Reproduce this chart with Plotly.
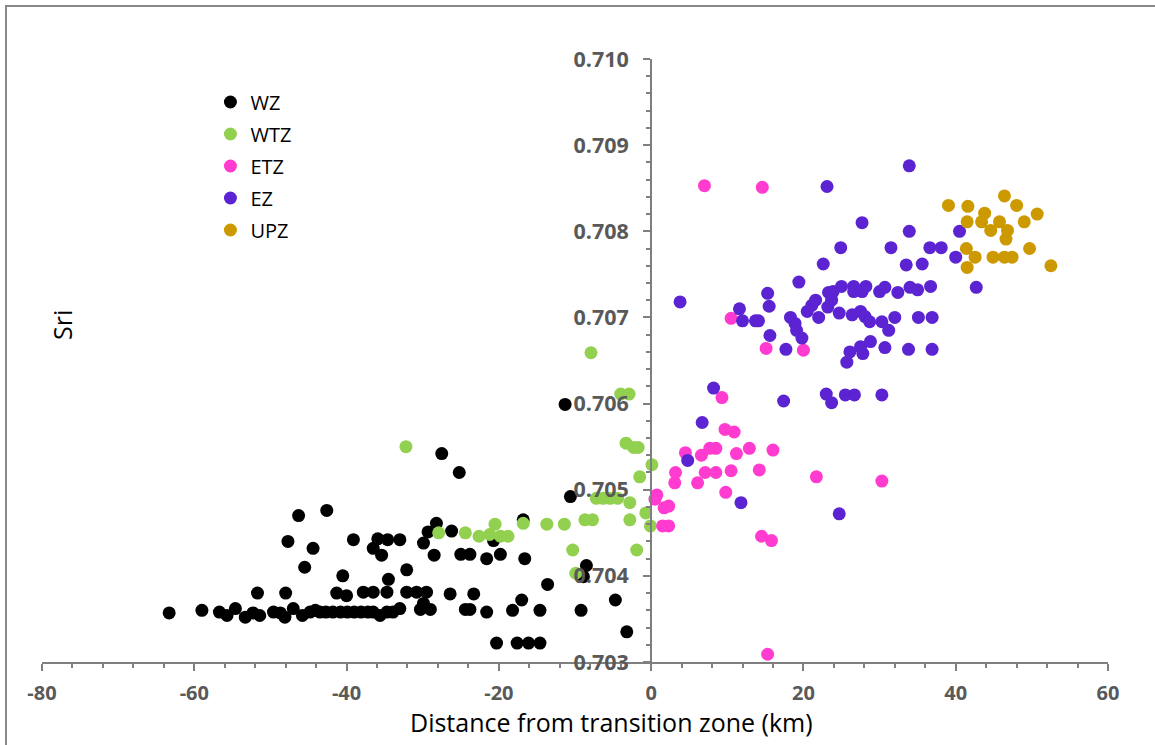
import plotly.graph_objects as go

# ---- data: distance from transition zone (km) and Sr isotope ratio ----
wz_x = [-63.3, -59.0, -56.7, -55.7, -54.6, -53.3, -52.3, -51.4, -49.6, -48.7, -48.1, -47.0,
        -45.8, -44.8, -44.1, -43.5, -42.7, -41.8, -40.8, -39.9, -39.0, -38.1, -37.2, -36.5,
        -35.6, -34.7, -33.9, -33.0, -30.3, -29.0, -29.9, -24.4, -23.8, -21.6, -18.2, -14.6,
        -9.2, -51.7, -48.0, -41.3, -40.0, -37.8, -36.5, -34.7, -32.1, -30.8, -29.5, -26.4,
        -23.3, -17.0, -4.7, -40.5, -34.5, -32.1, -45.5, -13.6, -8.5, -8.9, -47.7, -44.4,
        -39.1, -36.5, -35.9, -34.6, -33.0, -35.4, -29.9, -28.5, -28.2, -29.3, -26.2, -25.0,
        -23.8, -21.6, -19.8, -16.6, -20.7, -16.8, -46.3, -42.6, -27.5, -25.2, -11.3, -10.6,
        -3.2, -20.3, -17.6, -16.1, -14.6]
wz_y = [0.70357, 0.70360, 0.70358, 0.70354, 0.70362, 0.70352, 0.70357, 0.70354, 0.70358,
        0.70357, 0.70352, 0.70362, 0.70354, 0.70358, 0.70360, 0.70358, 0.70358, 0.70358,
        0.70358, 0.70358, 0.70358, 0.70358, 0.70358, 0.70358, 0.70354, 0.70358, 0.70358,
        0.70362, 0.70361, 0.70361, 0.70368, 0.70361, 0.70361, 0.70358, 0.70360, 0.70360,
        0.70360, 0.70380, 0.70380, 0.70380, 0.70377, 0.70381, 0.70381, 0.70381, 0.70381,
        0.70381, 0.70381, 0.70379, 0.70379, 0.70372, 0.70372, 0.70400, 0.70396, 0.70407,
        0.70410, 0.70390, 0.70412, 0.70399, 0.70440, 0.70432, 0.70442, 0.70432, 0.70443,
        0.70442, 0.70442, 0.70424, 0.70438, 0.70424, 0.70461, 0.70451, 0.70452, 0.70425,
        0.70425, 0.70420, 0.70425, 0.70420, 0.70441, 0.70465, 0.70470, 0.70476, 0.70542,
        0.70520, 0.70599, 0.70492, 0.70335, 0.70322, 0.70322, 0.70322, 0.70322]

wtz_x = [-7.9, -4.0, -2.9, -32.2, -3.3, -2.3, -1.7, 0.1, -1.5, -7.2, -6.3, -5.4, -4.4, -2.8,
         -0.7, -2.8, -0.1, -8.7, -7.7, -13.7, -11.4, -16.8, -20.5, -27.9, -24.4, -22.6,
         -21.2, -19.8, -18.8, -10.3, -1.9, -9.9]
wtz_y = [0.70659, 0.70611, 0.70611, 0.70550, 0.70554, 0.70549, 0.70549, 0.70529, 0.70515,
         0.70490, 0.70490, 0.70490, 0.70490, 0.70485, 0.70473, 0.70465, 0.70458, 0.70465,
         0.70465, 0.70460, 0.70460, 0.70461, 0.70460, 0.70450, 0.70450, 0.70446, 0.70448,
         0.70446, 0.70446, 0.70430, 0.70430, 0.70403]

etz_x = [9.3, 9.7, 10.9, 4.5, 6.6, 7.7, 8.5, 11.2, 12.9, 16.0, 3.2, 3.1, 6.1, 7.1, 8.5, 10.5,
         14.2, 21.7, 9.8, 0.75, 0.5, 1.7, 2.3, 1.5, 2.3, 14.5, 15.8, 15.3, 7.0, 14.6, 10.5,
         15.1, 20.0, 30.3]
etz_y = [0.70607, 0.70570, 0.70567, 0.70543, 0.70540, 0.70548, 0.70548, 0.70542, 0.70548,
         0.70546, 0.70520, 0.70508, 0.70508, 0.70520, 0.70520, 0.70522, 0.70523, 0.70515,
         0.70497, 0.70494, 0.70489, 0.70479, 0.70481, 0.70458, 0.70458, 0.70446, 0.70441,
         0.70309, 0.70853, 0.70851, 0.70699, 0.70664, 0.70662, 0.70510]

ez_x = [33.9, 23.1, 27.7, 33.9, 40.5, 24.9, 31.5, 36.6, 38.1, 40.0, 22.6, 33.5, 35.6, 19.4,
        15.3, 15.5, 11.6, 12.0, 13.7, 14.1, 3.8, 15.6, 17.7, 18.3, 18.9, 19.1, 19.8, 20.5,
        21.1, 21.6, 22.0, 23.2, 23.3, 23.9, 23.7, 25.0, 26.6, 26.6, 27.7, 28.2, 24.7, 26.4,
        27.5, 28.1, 28.7, 30.0, 30.7, 32.4, 34.0, 35.0, 36.7, 30.3, 31.2, 32.0, 35.1, 36.9,
        26.1, 25.7, 27.5, 27.8, 28.8, 30.7, 33.8, 36.9, 8.2, 17.4, 23.0, 23.7, 25.5, 26.7,
        30.3, 6.7, 4.8, 11.8, 24.7, 42.7]
ez_y = [0.70876, 0.70852, 0.70810, 0.70800, 0.70800, 0.70781, 0.70781, 0.70781, 0.70781,
        0.70770, 0.70762, 0.70761, 0.70762, 0.70741, 0.70728, 0.70713, 0.70710, 0.70696,
        0.70696, 0.70696, 0.70718, 0.70679, 0.70663, 0.70700, 0.70693, 0.70685, 0.70676,
        0.70707, 0.70714, 0.70720, 0.70700, 0.70712, 0.70729, 0.70730, 0.70720, 0.70736,
        0.70736, 0.70730, 0.70730, 0.70736, 0.70705, 0.70703, 0.70707, 0.70701, 0.70695,
        0.70730, 0.70735, 0.70729, 0.70735, 0.70732, 0.70736, 0.70695, 0.70685, 0.70700,
        0.70700, 0.70700, 0.70660, 0.70648, 0.70666, 0.70658, 0.70672, 0.70665, 0.70663,
        0.70663, 0.70618, 0.70603, 0.70611, 0.70601, 0.70610, 0.70610, 0.70610, 0.70578,
        0.70534, 0.70485, 0.70472, 0.70735]

upz_x = [39.05, 41.6, 46.4, 48.0, 43.8, 41.5, 43.4, 45.75, 49.0, 50.7, 44.6, 46.8, 46.6,
         41.4, 49.7, 42.55, 44.9, 46.4, 47.4, 41.5, 52.5]
upz_y = [0.70830, 0.70829, 0.70841, 0.70830, 0.70821, 0.70811, 0.70811, 0.70811, 0.70811,
         0.70820, 0.70801, 0.70801, 0.70791, 0.70780, 0.70780, 0.70770, 0.70770, 0.70770,
         0.70770, 0.70758, 0.70760]

zones = [
    ("WZ", wz_x, wz_y, "#000000"),
    ("WTZ", wtz_x, wtz_y, "#92D050"),
    ("ETZ", etz_x, etz_y, "#FF3CCF"),
    ("EZ", ez_x, ez_y, "#5B23D1"),
    ("UPZ", upz_x, upz_y, "#CC9900"),
]

x_tick_vals = [-80, -60, -40, -20, 0, 20, 40, 60]
x_tick_text = ["-80", "-60", "-40", "-20", "0", "20", "40", "60"]

AXIS_GRAY = "#7F7F7F"
LABEL_GRAY = "#595959"
FONT = "Open Sans"

fig = go.Figure()
for name, xs, ys, color in zones:
    fig.add_trace(go.Scatter(
        x=xs, y=ys, mode="markers", name=name, legendgroup=name,
        marker=dict(size=13, color=color, line=dict(width=0)),
    ))

fig.update_layout(
    width=1155, height=745,
    margin=dict(l=42, r=47, t=59, b=83),
    paper_bgcolor="white", plot_bgcolor="white",
    font=dict(family=FONT, color="#000000"),
    showlegend=True,
    legend=dict(
        x=0.158, y=0.961, xanchor="left", yanchor="top",
        font=dict(family=FONT, size=20, color="#000000"),
        bgcolor="rgba(0,0,0,0)", borderwidth=0,
        traceorder="grouped", tracegroupgap=3, itemsizing="trace",
    ),
    xaxis=dict(
        range=[-80, 60], tickvals=x_tick_vals, ticktext=x_tick_text,
        showgrid=False, zeroline=False,
        showline=True, linecolor=AXIS_GRAY, linewidth=2,
        ticks="outside", ticklen=7, tickwidth=2, tickcolor=AXIS_GRAY,
        minor=dict(tick0=-80, dtick=4, ticks="outside", ticklen=4, tickwidth=2,
                   tickcolor=AXIS_GRAY, showgrid=False),
        tickfont=dict(family=FONT, size=20, color=LABEL_GRAY, weight="bold"),
        ticklabelstandoff=5,
    ),
    yaxis=dict(
        range=[0.703, 0.710], dtick=0.001, tick0=0.703, tickformat=".3f",
        anchor="free", position=80 / 140,
        showgrid=False, zeroline=False,
        showline=True, linecolor=AXIS_GRAY, linewidth=2,
        ticks="outside", ticklen=7, tickwidth=2, tickcolor=AXIS_GRAY,
        minor=dict(tick0=0.703, dtick=0.0002, ticks="outside", ticklen=4, tickwidth=2,
                   tickcolor=AXIS_GRAY, showgrid=False),
        tickfont=dict(family=FONT, size=21.5, color=LABEL_GRAY, weight="bold"),
        ticklabelstandoff=10,
    ),
    annotations=[
        dict(text="Distance from transition zone (km)", xref="paper", yref="paper",
             x=(611 - 42) / 1066, y=-(722 - 662) / 603, xanchor="center", yanchor="middle",
             showarrow=False, font=dict(family=FONT, size=25, color="#000000")),
        dict(text="Sri", xref="paper", yref="paper",
             x=(62 - 42) / 1066, y=1 - (325 - 59) / 603, xanchor="center", yanchor="middle",
             textangle=-90, showarrow=False, font=dict(family=FONT, size=25, color="#000000")),
    ],
    shapes=[
        dict(type="rect", xref="paper", yref="paper",
             x0=(6 - 42) / 1066, x1=1.2, y0=-0.4, y1=1 + (59 - 6) / 603,
             line=dict(color="#898989", width=2), layer="below"),
    ],
)

fig.write_html("out.html")
